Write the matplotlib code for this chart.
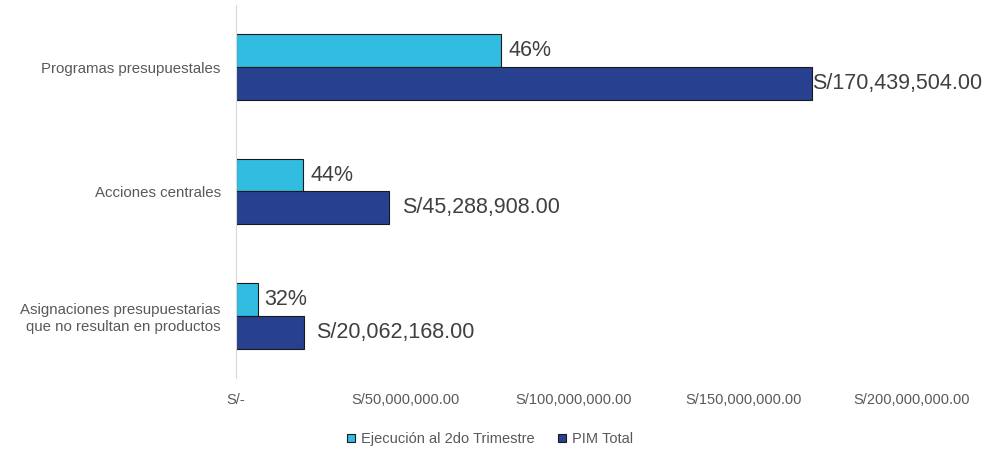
import matplotlib.pyplot as plt
import numpy as np

plt.rcParams['font.family'] = ['Liberation Sans', 'DejaVu Sans']

categorias = ['Programas presupuestales', 'Acciones centrales',
              'Asignaciones presupuestarias\nque no resultan en productos']
pim_total = [170439504.00, 45288908.00, 20062168.00]
ejecucion = [78500000.00, 19900000.00, 6400000.00]
porcentajes = ['46%', '44%', '32%']
ticks = [0, 50e6, 100e6, 150e6, 200e6]
tick_labels = ['S/-', 'S/50,000,000.00', 'S/100,000,000.00',
               'S/150,000,000.00', 'S/200,000,000.00']

c_ejec = '#31BDE1'
c_pim = '#27408F'

fig = plt.figure(figsize=(10.06, 4.49), dpi=100)
ax = fig.add_axes([0.2346, 0.158, 0.672, 0.831])

y = np.arange(len(categorias))
h = 0.265
b1 = ax.barh(y - h / 2, ejecucion, height=h, color=c_ejec, edgecolor='#1a1a1a',
             linewidth=0.8, label='Ejecución al 2do Trimestre')
b2 = ax.barh(y + h / 2, pim_total, height=h, color=c_pim, edgecolor='#1a1a1a',
             linewidth=0.8, label='PIM Total')

# data labels
for i, (v, p) in enumerate(zip(ejecucion, porcentajes)):
    ax.annotate(p, (v, y[i] - h / 2), xytext=(5, 0), textcoords='offset points',
                va='center', ha='left', fontsize=15.5, color='#404040')
for i, v in enumerate(pim_total):
    pad = 0 if i == 0 else 9
    ax.annotate(f"S/{v:,.2f}", (v, y[i] + h / 2), xytext=(pad, 0),
                textcoords='offset points', va='center', ha='left',
                fontsize=15.5, color='#404040')

ax.set_xlim(0, 200e6)
ax.set_ylim(2.5, -0.5)
ax.set_yticks(y)
ax.set_yticklabels(categorias, fontsize=10.8, color='#595959')
ax.set_xticks(ticks)
ax.set_xticklabels(tick_labels, fontsize=10.5, color='#595959')
ax.tick_params(length=0)
ax.tick_params(axis='x', pad=11)
ax.tick_params(axis='y', pad=11)
for s in ['top', 'right', 'bottom']:
    ax.spines[s].set_visible(False)
ax.spines['left'].set_color('#D9D9D9')

fig.legend(handles=[b1, b2], loc='center', bbox_to_anchor=(0.487, 0.022),
           ncol=2, frameon=False, fontsize=10.5, labelcolor='#595959',
           handlelength=0.55, handleheight=0.55, handletextpad=0.4,
           columnspacing=1.6)

fig.savefig('out.png', dpi=100)
